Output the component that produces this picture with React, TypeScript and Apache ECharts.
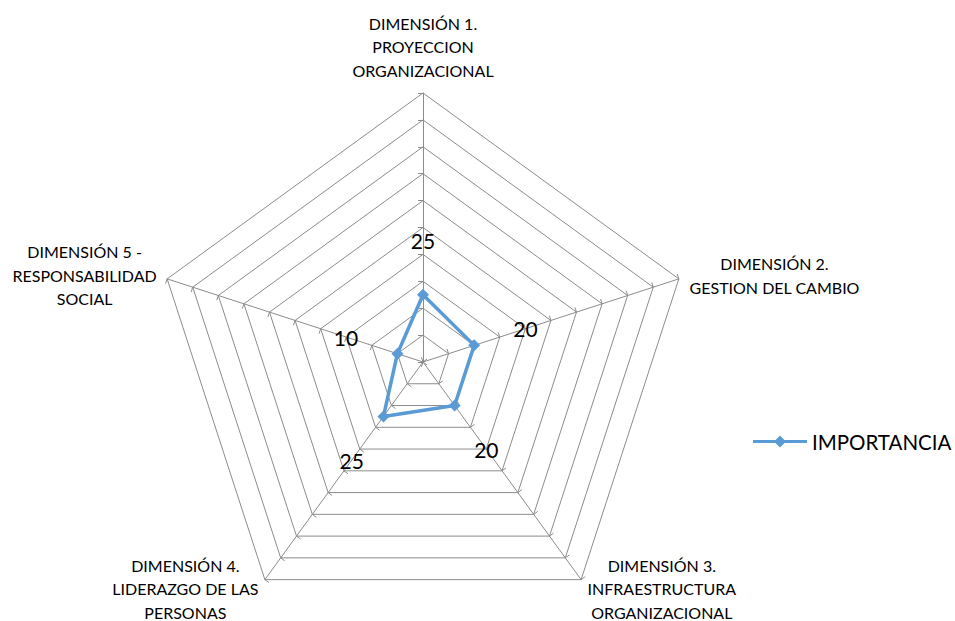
import React, { useEffect, useRef } from "react";
import * as echarts from "echarts";

// ---- data ----
const dimensions: string[] = [
  "DIMENSIÓN 1.\nPROYECCION\nORGANIZACIONAL",
  "DIMENSIÓN 2.\nGESTION DEL CAMBIO",
  "DIMENSIÓN 3.\nINFRAESTRUCTURA\nORGANIZACIONAL",
  "DIMENSIÓN 4.\nLIDERAZGO DE LAS\nPERSONAS",
  "DIMENSIÓN 5 -\nRESPONSABILIDAD\nSOCIAL",
];
const importancia: number[] = [25, 20, 20, 25, 10];
const seriesName = "IMPORTANCIA";
const axisMax = 100;
const axisSplits = 10;

// ---- layout / style ----
const CX = 423;
const CY = 362;
const RADIUS = 269;
const LABEL_OFFSET = 54;
const FONT = "Lato, 'Open Sans', sans-serif";
const GRID_COLOR = "#8c8c8c";
const BLUE = "#5B9BD5";

export default function App() {
  const ref = useRef<HTMLDivElement>(null);

  useEffect(() => {
    document.body.style.margin = "0";
    if (!ref.current) return;
    const chart = echarts.init(ref.current, null, { renderer: "svg" });

    // ECharts lays radar indicators out counter-clockwise; the reference is clockwise.
    const order = [0, 4, 3, 2, 1];
    const indicators = order.map((i) => ({ name: dimensions[i], min: 0, max: axisMax }));
    const values = order.map((i) => importancia[i]);

    chart.setOption({
      animation: false,
      backgroundColor: "#ffffff",
      textStyle: { fontFamily: FONT },
      legend: {
        orient: "vertical",
        left: 753,
        top: 431,
        padding: 0,
        itemWidth: 54,
        itemHeight: 12,
        selectedMode: false,
        textStyle: { fontSize: 20.5, color: "#000", fontFamily: FONT },
        data: [
          {
            name: seriesName,
            icon: "path://M0,4.5L54,4.5L54,7.5L0,7.5Z M27,0L33,6L27,12L21,6Z",
            itemStyle: { color: BLUE },
          },
        ],
      },
      radar: {
        center: [CX, CY],
        radius: RADIUS,
        startAngle: 90,
        splitNumber: axisSplits,
        shape: "polygon",
        indicator: indicators,
        axisNameGap: 11,
        axisName: {
          color: "#000",
          formatter: (name: string) =>
            name
              .split("\n")
              .map((l) => `{c|${l}}`)
              .join("\n"),
          rich: {
            c: {
              align: "center",
              fontSize: 16,
              lineHeight: 23.5,
              color: "#000",
              fontFamily: FONT,
            },
          },
        },
        splitLine: { lineStyle: { color: GRID_COLOR, width: 1 } },
        splitArea: { show: false },
        axisLine: { lineStyle: { color: GRID_COLOR, width: 1 } },
        axisTick: { show: true, length: 5, lineStyle: { color: GRID_COLOR } },
        axisLabel: { show: false },
      },
      series: [
        {
          type: "radar",
          name: seriesName,
          symbol: "diamond",
          symbolSize: 12,
          lineStyle: { color: BLUE, width: 3.5 },
          itemStyle: { color: BLUE },
          label: {
            show: true,
            position: "top",
            fontSize: 21,
            color: "#000",
            fontFamily: FONT,
            textBorderWidth: 0,
          },
          labelLayout: (p: any) => {
            const vx = p.rect.x + p.rect.width / 2;
            const vy = p.rect.y + p.rect.height / 2;
            const dx = vx - CX;
            const dy = vy - CY;
            const len = Math.sqrt(dx * dx + dy * dy) || 1;
            const tx = vx + (dx / len) * LABEL_OFFSET;
            const ty = vy + (dy / len) * LABEL_OFFSET;
            const lx = p.labelRect.x + p.labelRect.width / 2;
            const ly = p.labelRect.y + p.labelRect.height / 2;
            return { dx: tx - lx, dy: ty - ly };
          },
          data: [{ name: seriesName, value: values }],
        },
      ],
    });

    return () => chart.dispose();
  }, []);

  return <div ref={ref} style={{ width: 955, height: 621 }} />;
}
